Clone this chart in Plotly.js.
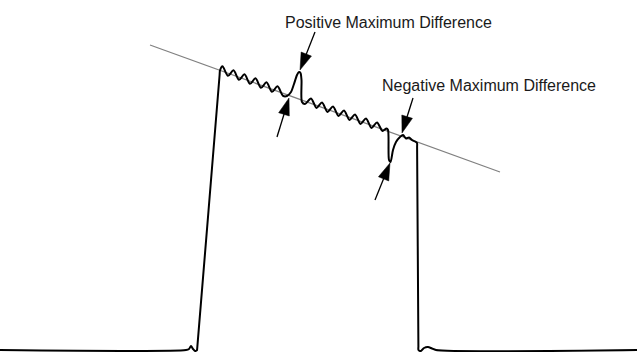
<!DOCTYPE html>
<html>
<head>
<meta charset="utf-8">
<script src="https://cdn.plot.ly/plotly-3.0.1.min.js"></script>
<style>html,body{margin:0;padding:0;background:#fff;}#chart{width:637px;height:352px;}</style>
</head>
<body>
<div id="chart"></div>
<script>
// Reference (ideal sloped top) line endpoints
const refLineX = [150, 500];
const refLineY = [45, 172];

// Pulse waveform
const waveX = [0, 186, 189, 191, 193, 195, 196.6, 197, 197.4,
  219.6, 220, 222.5, 228, 233.5, 239, 244.5, 250, 255.5, 261, 266.5, 272, 277.5, 283, 287,
  291, 294, 297, 299, 300.5, 301.5, 302, 305,
  311, 316.5, 322, 327.5, 333, 338.5, 344, 349.5, 355, 360.5, 366, 371.5, 377, 382.5, 386.5, 388,
  389, 390.5, 393, 396, 400, 403, 406, 409, 412, 415, 417, 417.1,
  418.4, 418.5, 421, 424, 428, 432, 436, 637];
const waveY = [350, 350, 349, 346, 349, 351, 350.5, 350, 346,
  75, 70.5, 66.3, 75.8, 70.3, 79.8, 74.3, 83.8, 78.3, 87.8, 82.3, 91.8, 86.3, 95.8, 96,
  92, 84, 75, 72, 73, 80, 102, 104,
  98.4, 107.9, 102.4, 111.9, 106.4, 115.9, 110.4, 119.9, 114.4, 123.9, 118.4, 127.9, 122.4, 131, 128.5, 130,
  160, 162, 150, 142, 137, 135, 138.5, 137.5, 140, 141.5, 143, 147,
  346, 350, 351, 348, 347, 348.5, 350, 350];

// Arrows: tail -> tip
const arrowTailX = [315, 277, 413, 375];
const arrowTailY = [32, 137, 98, 200];
const arrowTipX  = [300, 289, 402, 390];
const arrowTipY  = [70, 98, 133, 163];

// Labels
const labelText = ["Positive Maximum Difference", "Negative Maximum Difference"];
const labelX = [283, 380];
const labelY = [22, 85];

const traces = [
  {x: refLineX, y: refLineY, mode: 'lines', line: {color: '#808080', width: 1.2}, hoverinfo: 'skip'},
  {x: waveX, y: waveY, mode: 'lines', line: {color: '#000', width: 2, shape: 'spline', smoothing: 0.8}, hoverinfo: 'skip'}
];
for (let i = 0; i < arrowTailX.length; i++) {
  traces.push({
    x: [arrowTailX[i], arrowTipX[i]], y: [arrowTailY[i], arrowTipY[i]],
    mode: 'lines+markers',
    line: {color: '#000', width: 1.3},
    marker: {symbol: ['circle', 'arrow'], size: [0, 18], color: '#000', opacity: 1, angleref: 'previous', line: {width: 0.5, color: '#000'}},
    hoverinfo: 'skip'
  });
}

const annotations = labelText.map((t, i) => ({
  text: t, x: labelX[i], y: labelY[i], xref: 'x', yref: 'y',
  xanchor: 'left', yanchor: 'middle', showarrow: false,
  font: {family: 'Liberation Sans, Arial, sans-serif', size: 16, color: '#1a1a1a'}
}));

const layout = {
  width: 637, height: 352,
  margin: {l: 0, r: 0, t: 0, b: 0, pad: 0},
  paper_bgcolor: '#fff', plot_bgcolor: '#fff',
  showlegend: false,
  xaxis: {range: [0, 637], visible: false, fixedrange: true},
  yaxis: {range: [352, 0], visible: false, fixedrange: true},
  annotations: annotations
};

Plotly.newPlot('chart', traces, layout, {displayModeBar: false, staticPlot: true});
</script>
</body>
</html>
